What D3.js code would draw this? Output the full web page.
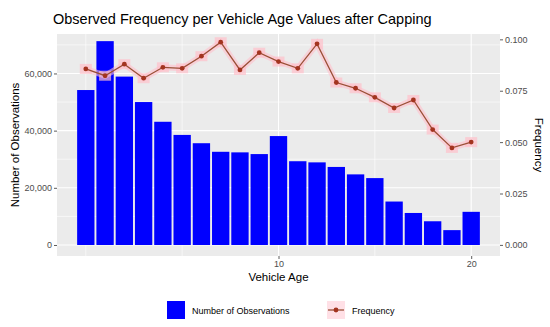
<!DOCTYPE html>
<html>
<head>
<meta charset="utf-8">
<script src="https://cdn.jsdelivr.net/npm/d3@7"></script>
<style>
  body { margin: 0; background: #fff; }
  text { font-family: "Liberation Sans", Arial, sans-serif; }
</style>
</head>
<body>
<script>
// Donnees
var ages = [0, 1, 2, 3, 4, 5, 6, 7, 8, 9, 10, 11, 12, 13, 14, 15, 16, 17, 18, 19, 20];
var observations = [54200, 71300, 58900, 50000, 43100, 38500, 35600, 32600, 32400, 31800,
                    38100, 29300, 28900, 27300, 24700, 23400, 15200, 11200, 8300, 5200, 11600];
var frequence = [0.0856, 0.0823, 0.0879, 0.0811, 0.0864, 0.0859, 0.0918, 0.0986, 0.0851, 0.0935,
                 0.0892, 0.0859, 0.0978, 0.0790, 0.0762, 0.0718, 0.0666, 0.0705, 0.0561, 0.0472, 0.0500];
var xTicks = [10, 20];
var xMinor = [0, 5, 15];
var yLeftTicks = [0, 20000, 40000, 60000];
var yLeftMinor = [10000, 30000, 50000, 70000];
var yRightTicks = [0, 0.025, 0.05, 0.075, 0.1];

var W = 550, H = 327;
var panel = {left: 57, right: 500, top: 34, bottom: 256};

var svg = d3.select("body").append("svg")
    .attr("width", W).attr("height", H);

var x = d3.scaleLinear().domain([-1.495, 21.495]).range([panel.left, panel.right]);
var yL = d3.scaleLinear().domain([-3850, 73800]).range([panel.bottom, panel.top]);
var yR = d3.scaleLinear().domain([-0.0054, 0.1026]).range([panel.bottom, panel.top]);

// fond du panneau
svg.append("rect")
    .attr("x", panel.left).attr("y", panel.top)
    .attr("width", panel.right - panel.left).attr("height", panel.bottom - panel.top)
    .attr("fill", "#ebebeb");

// grilles
var grid = svg.append("g").attr("stroke", "#fff");
yLeftMinor.forEach(function(v) {
  grid.append("line").attr("x1", panel.left).attr("x2", panel.right)
      .attr("y1", yL(v)).attr("y2", yL(v)).attr("stroke-width", 0.6);
});
xMinor.forEach(function(v) {
  grid.append("line").attr("y1", panel.top).attr("y2", panel.bottom)
      .attr("x1", x(v)).attr("x2", x(v)).attr("stroke-width", 0.6);
});
yLeftTicks.forEach(function(v) {
  grid.append("line").attr("x1", panel.left).attr("x2", panel.right)
      .attr("y1", yL(v)).attr("y2", yL(v)).attr("stroke-width", 1.1);
});
xTicks.forEach(function(v) {
  grid.append("line").attr("y1", panel.top).attr("y2", panel.bottom)
      .attr("x1", x(v)).attr("x2", x(v)).attr("stroke-width", 1.1);
});

// barres
var bw = x(0.45) - x(-0.45);
svg.append("g").selectAll("rect")
    .data(ages)
    .join("rect")
    .attr("x", function(d) { return x(d) - bw / 2; })
    .attr("y", function(d, i) { return yL(observations[i]); })
    .attr("width", bw)
    .attr("height", function(d, i) { return yL(0) - yL(observations[i]); })
    .attr("fill", "#0000ff");

// courbe de frequence
var ligne = d3.line()
    .x(function(d) { return x(d); })
    .y(function(d, i) { return yR(frequence[i]); });

svg.append("path").datum(ages)
    .attr("d", ligne)
    .attr("fill", "none")
    .attr("stroke", "#ffc0cb")
    .attr("stroke-opacity", 0.6)
    .attr("stroke-width", 6);

svg.append("g").selectAll("rect")
    .data(ages)
    .join("rect")
    .attr("x", function(d) { return x(d) - 6; })
    .attr("y", function(d, i) { return yR(frequence[i]) - 5; })
    .attr("width", 12).attr("height", 10)
    .attr("fill", "#ffc0cb").attr("opacity", 0.7);

svg.append("path").datum(ages)
    .attr("d", ligne)
    .attr("fill", "none")
    .attr("stroke", "#9a4f36")
    .attr("stroke-width", 1.3);

svg.append("g").selectAll("circle")
    .data(ages)
    .join("circle")
    .attr("cx", function(d) { return x(d); })
    .attr("cy", function(d, i) { return yR(frequence[i]); })
    .attr("r", 2.4)
    .attr("fill", "#a3341f");

// axes
function styleAxis(g) {
  g.select(".domain").remove();
  g.selectAll(".tick line").attr("stroke", "#333").attr("stroke-width", 0.8);
  g.selectAll(".tick text").attr("fill", "#4d4d4d").attr("font-size", 9)
      .attr("font-family", "Liberation Sans, Arial, sans-serif");
}

svg.append("g")
    .attr("transform", "translate(0," + panel.bottom + ")")
    .call(d3.axisBottom(x).tickValues(xTicks).tickSize(3).tickPadding(2))
    .call(styleAxis);

svg.append("g")
    .attr("transform", "translate(" + panel.left + ",0)")
    .call(d3.axisLeft(yL).tickValues(yLeftTicks).tickSize(3).tickPadding(2))
    .call(styleAxis);

svg.append("g")
    .attr("transform", "translate(" + panel.right + ",0)")
    .call(d3.axisRight(yR).tickValues(yRightTicks).tickFormat(d3.format(".3f")).tickSize(3).tickPadding(2))
    .call(styleAxis);

// titres
svg.append("text")
    .attr("x", 53).attr("y", 24)
    .attr("font-size", 14.5).attr("fill", "#000")
    .text("Observed Frequency per Vehicle Age Values after Capping");

svg.append("text")
    .attr("x", (panel.left + panel.right) / 2).attr("y", 281)
    .attr("text-anchor", "middle").attr("font-size", 11.5)
    .text("Vehicle Age");

svg.append("text")
    .attr("transform", "translate(19," + (panel.top + panel.bottom) / 2 + ") rotate(-90)")
    .attr("text-anchor", "middle").attr("font-size", 11.5)
    .text("Number of Observations");

svg.append("text")
    .attr("transform", "translate(535," + (panel.top + panel.bottom) / 2 + ") rotate(90)")
    .attr("text-anchor", "middle").attr("font-size", 11.5)
    .text("Frequency");

// legende
var leg = svg.append("g");
leg.append("rect").attr("x", 167).attr("y", 301).attr("width", 18).attr("height", 18)
    .attr("fill", "#0000ff");
leg.append("text").attr("x", 192).attr("y", 313.5).attr("font-size", 9)
    .text("Number of Observations");

leg.append("rect").attr("x", 327).attr("y", 301).attr("width", 18).attr("height", 18)
    .attr("fill", "#ffe0e6");
leg.append("line").attr("x1", 328).attr("x2", 344).attr("y1", 310).attr("y2", 310)
    .attr("stroke", "#9a4f36").attr("stroke-width", 1.3);
leg.append("circle").attr("cx", 336).attr("cy", 310).attr("r", 2.4).attr("fill", "#a3341f");
leg.append("text").attr("x", 352).attr("y", 313.5).attr("font-size", 9)
    .text("Frequency");
</script>
</body>
</html>
